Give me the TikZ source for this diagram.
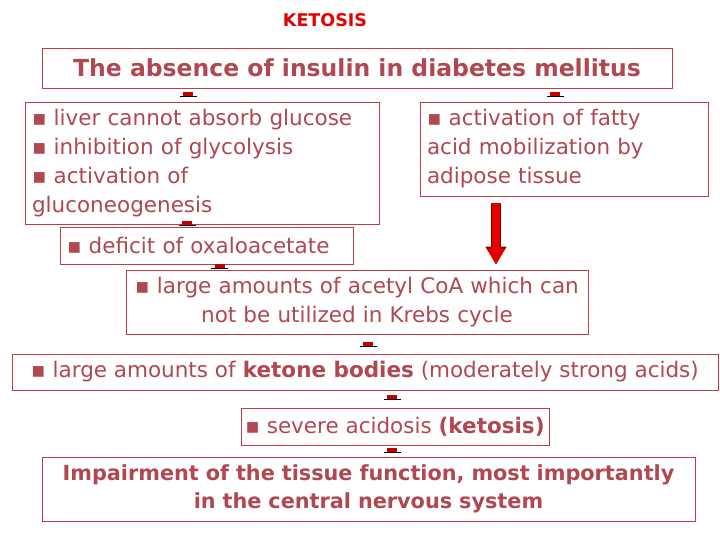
\documentclass[tikz,border=0pt]{standalone}
\usepackage{fontspec}
\setmainfont{DejaVu Sans}
\usetikzlibrary{arrows.meta}
\definecolor{rosetext}{RGB}{176,72,82}
\definecolor{roseline}{RGB}{190,62,72}
\definecolor{alarmred}{RGB}{228,0,0}
\tikzset{
    box/.style={draw=roseline, line width=0.9pt, text=rosetext, inner xsep=7pt, inner ysep=0pt},
    stub/.style={draw=alarmred!85!black, line width=10pt, -{Bar[black, width=17pt, line width=1pt]}},
    bigarrow/.style={draw=alarmred, line width=8pt, -{Triangle[width=17pt, length=16pt]},
        preaction={draw=alarmred!60!black, line width=10pt, -{Triangle[width=20pt, length=18pt]}}}}

\begin{document}
\begin{tikzpicture}[x=1pt, y=-1pt]

            \fill[white] (0,0) rectangle (720,540);

            \node[text=alarmred, font=\bfseries\fontsize{17.5}{20}\selectfont] (head) at (325,20) {KETOSIS};

            \node[box, minimum width=630pt, minimum height=40pt, font=\bfseries\fontsize{23.5}{26}\selectfont] (insulin) at (357,68) {The absence of insulin in diabetes mellitus};
            \node[box, minimum width=354pt, minimum height=122pt, text width=340pt, align=left, font=\fontsize{21.5}{29}\selectfont] (liver) at (202,163) {▪ liver cannot absorb glucose\\▪ inhibition of glycolysis\\▪ activation of\\gluconeogenesis};
            \node[box, minimum width=288pt, minimum height=94pt, text width=274pt, align=left, font=\fontsize{21.5}{29}\selectfont] (fatty) at (564,149) {▪ activation of fatty\\acid mobilization by\\adipose tissue};
            \node[box, minimum width=293pt, minimum height=37pt, text width=279pt, align=left, font=\fontsize{21.5}{29}\selectfont] (oxalo) at (206.5,245.5) {▪ deficit of oxaloacetate};
            \node[box, minimum width=462pt, minimum height=64pt, inner xsep=2pt, text width=458pt, align=center, font=\fontsize{21.5}{29}\selectfont] (acetyl) at (357,302) {▪ large amounts of acetyl CoA which can\\not be utilized in Krebs cycle};
            \node[box, minimum width=706pt, minimum height=36pt, font=\fontsize{21.5}{24}\selectfont] (ketone) at (365,372) {▪ large amounts of \textbf{ketone bodies} (moderately strong acids)};
            \node[box, minimum width=308pt, minimum height=37pt, inner xsep=4pt, font=\fontsize{21.5}{24}\selectfont] (acidosis) at (395,426.5) {▪ severe acidosis \textbf{(ketosis)}};
            \node[box, minimum width=653pt, minimum height=64pt, text width=639pt, align=center, font=\bfseries\fontsize{20.8}{28}\selectfont] (cns) at (368.5,489) {Impairment of the tissue function, most importantly\\in the central nervous system};

            \draw[stub, shorten <=4pt, shorten >=5pt] ([xshift=-169pt]insulin.south) -- ([xshift=-169pt]insulin.south |- liver.north);
            \draw[stub, shorten <=4pt, shorten >=5pt] ([xshift=198pt]insulin.south) -- ([xshift=198pt]insulin.south |- fatty.north);
            \draw[stub, shorten <=-3pt, shorten >=1pt] ([xshift=-15pt]liver.south) -- ([xshift=-15pt]liver.south |- oxalo.north);
            \draw[stub, shorten <=0pt, shorten >=1pt] ([xshift=13pt]oxalo.south) -- ([xshift=13pt]oxalo.south |- acetyl.north);
            \draw[stub, shorten <=8pt, shorten >=7pt] ([xshift=11pt]acetyl.south) -- ([xshift=11pt]acetyl.south |- ketone.north);
            \draw[stub, shorten <=5pt, shorten >=8pt] ([xshift=27pt]ketone.south) -- ([xshift=27pt]ketone.south |- acidosis.north);
            \draw[stub, shorten <=3pt, shorten >=4pt] ([xshift=-3pt]acidosis.south) -- ([xshift=-3pt]acidosis.south |- cns.north);
            \draw[bigarrow, shorten <=7pt, shorten >=5pt] ([xshift=-68pt]fatty.south) -- ([xshift=-68pt]fatty.south |- acetyl.north);

        \end{tikzpicture}
\end{document}
